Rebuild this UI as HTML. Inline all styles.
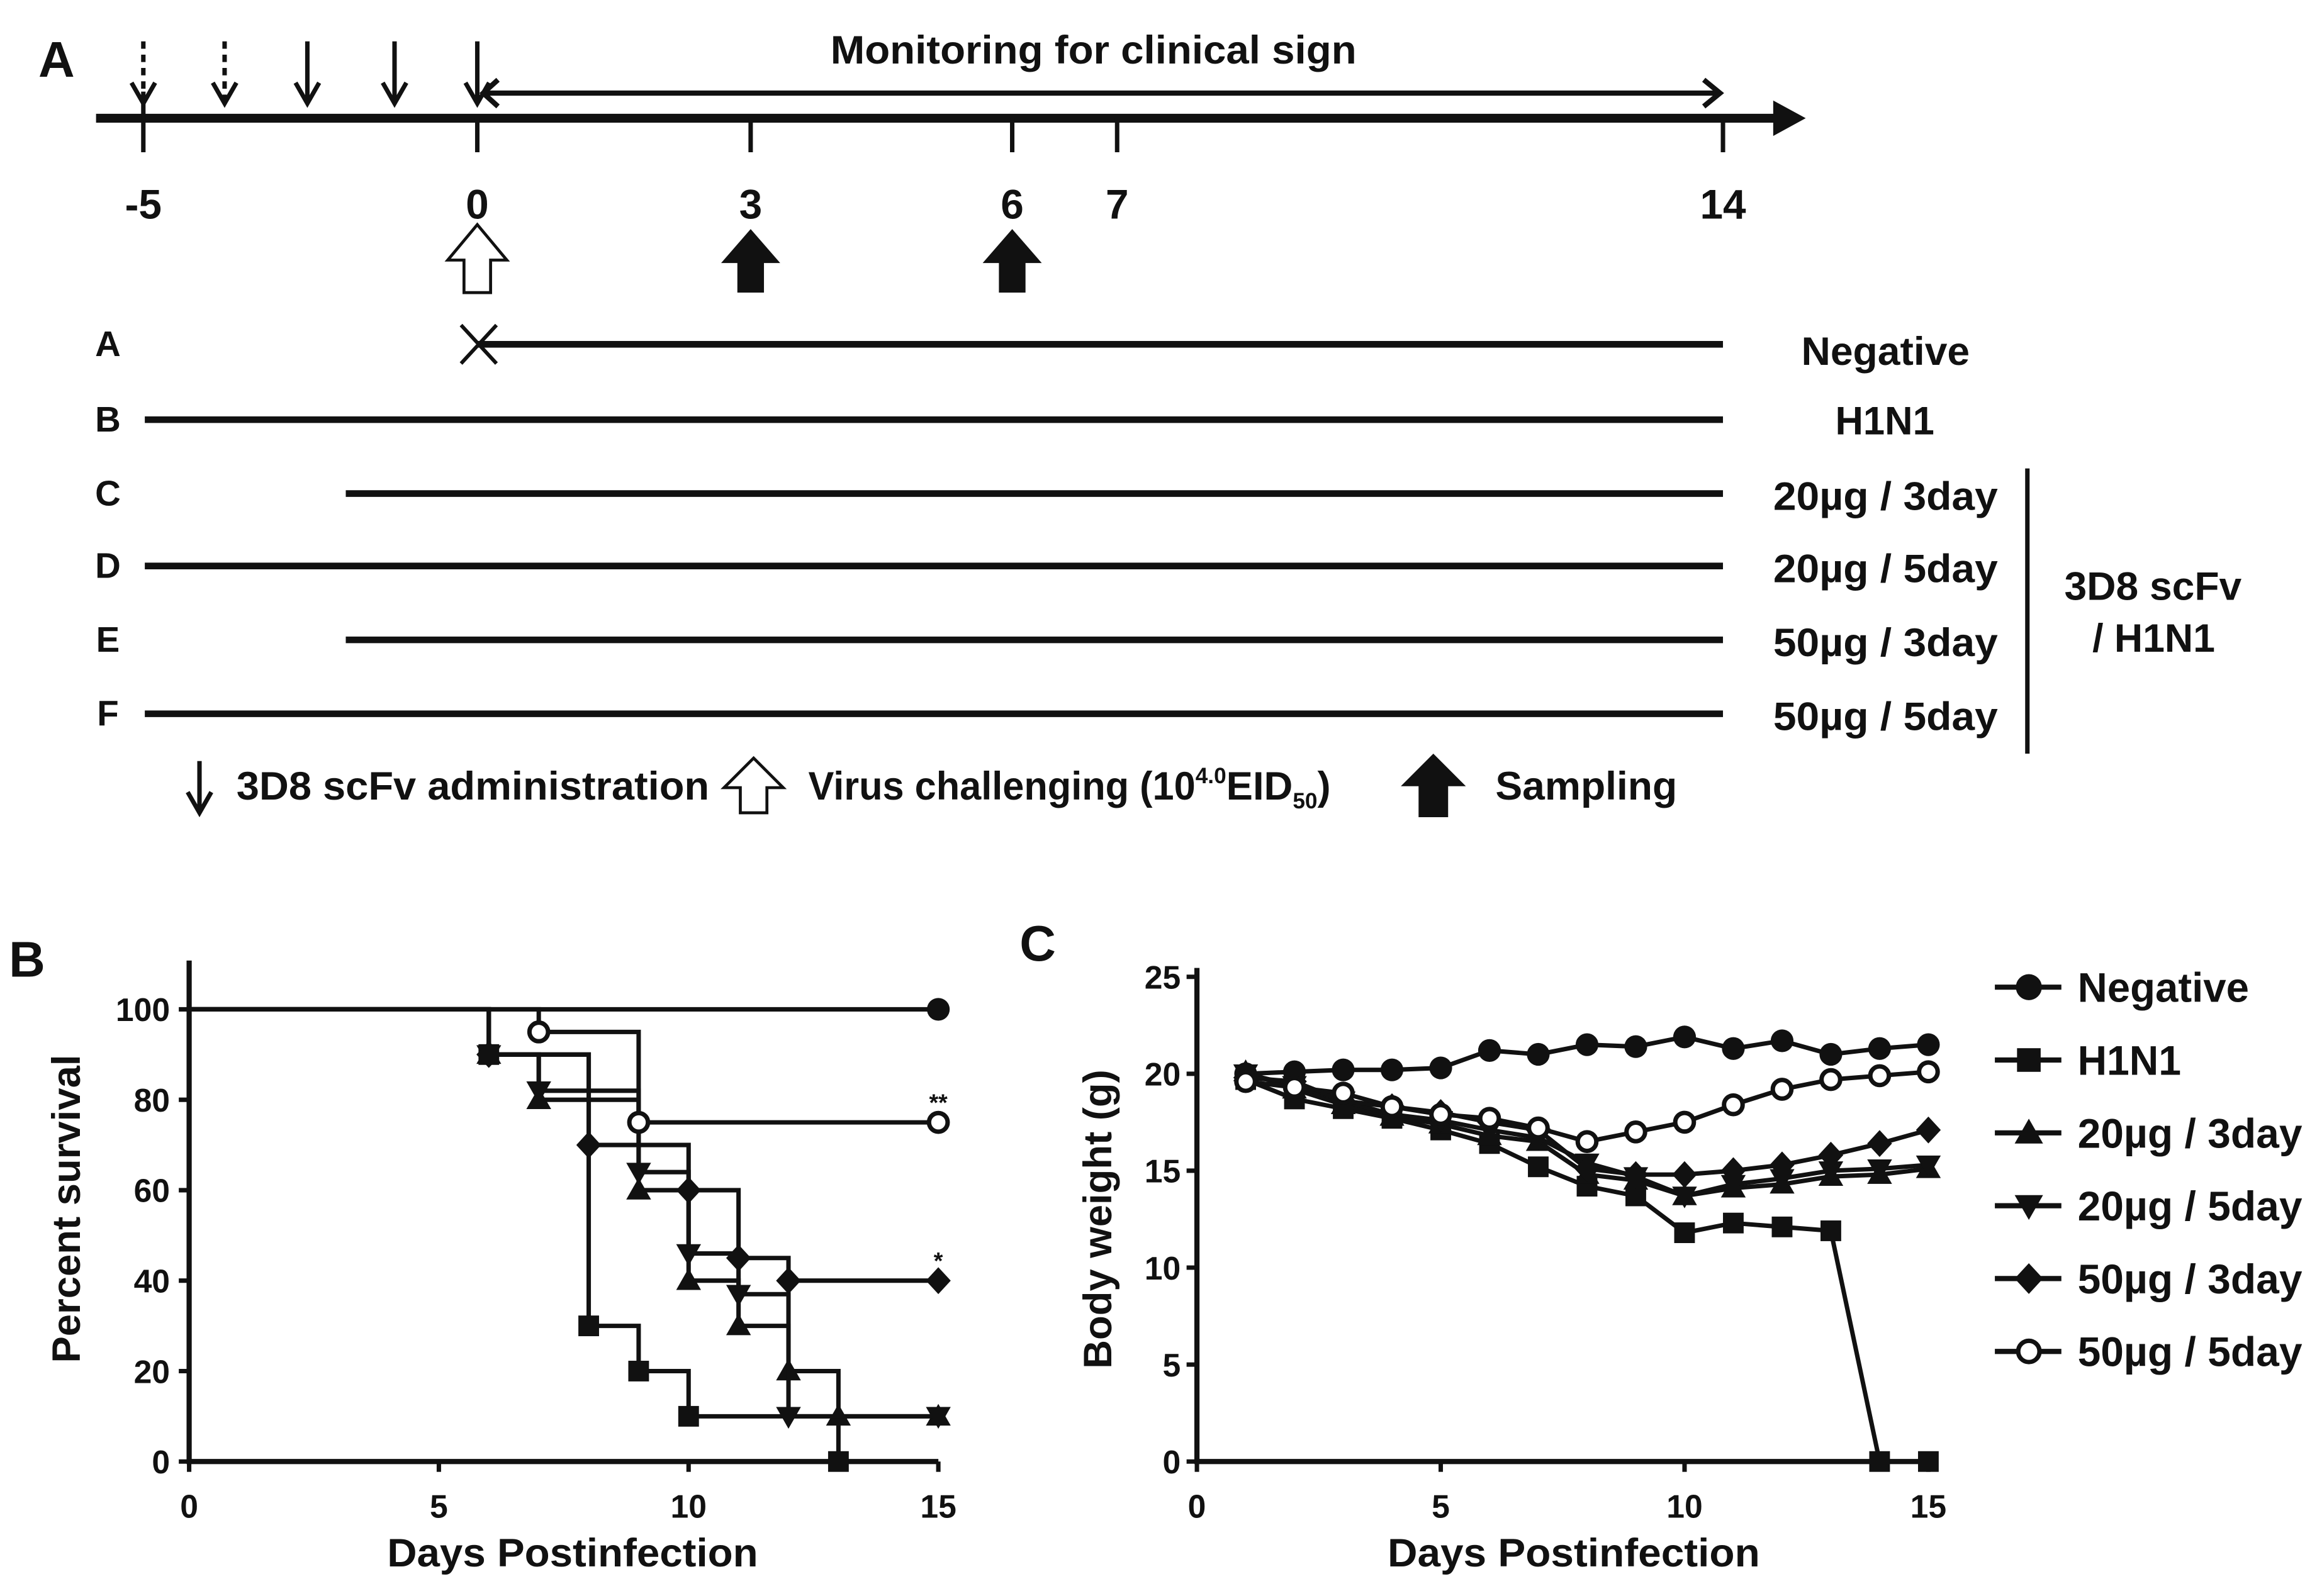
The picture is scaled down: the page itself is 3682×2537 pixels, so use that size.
<!DOCTYPE html>
<html><head><meta charset="utf-8"><style>
html,body{margin:0;padding:0;background:#fff}
svg{display:block}
text{font-family:"Liberation Sans",Arial,sans-serif;font-weight:bold;fill:#111}
</style></head><body>
<svg id="fig" width="3682" height="2537" viewBox="0 0 1568 1080" preserveAspectRatio="none" xmlns="http://www.w3.org/2000/svg">
<g id="panelA" stroke="#111" fill="none">
<text x="26" y="52" font-size="34" stroke="none">A</text>
<line x1="65" y1="80" x2="1205" y2="80" stroke-width="6"/>
<polygon points="1200,68 1222,80 1200,92" fill="#111" stroke="none"/>
<g stroke-width="3">
<line x1="97" y1="62" x2="97" y2="103"/><line x1="323" y1="80" x2="323" y2="103"/><line x1="508" y1="80" x2="508" y2="103"/><line x1="685" y1="80" x2="685" y2="103"/><line x1="756" y1="80" x2="756" y2="103"/><line x1="1166" y1="80" x2="1166" y2="103"/>
</g>
<g font-size="28" text-anchor="middle" stroke="none">
<text x="97" y="148">-5</text><text x="323" y="148">0</text><text x="508" y="148">3</text><text x="685" y="148">6</text><text x="756" y="148">7</text><text x="1166" y="148">14</text>
</g>
<g stroke-width="3">
<line x1="97" y1="28" x2="97" y2="68" stroke-dasharray="5,4"/><path d="M89,56 L97,70 L105,56"/>
<line x1="152" y1="28" x2="152" y2="68" stroke-dasharray="5,4"/><path d="M144,56 L152,70 L160,56"/>
<line x1="208" y1="28" x2="208" y2="68"/><path d="M200,56 L208,70 L216,56"/>
<line x1="267" y1="28" x2="267" y2="68"/><path d="M259,56 L267,70 L275,56"/>
<line x1="323" y1="28" x2="323" y2="68"/><path d="M315,56 L323,70 L331,56"/>
</g>
<g stroke-width="3.5">
<line x1="327" y1="63" x2="1163" y2="63"/><path d="M337,54 L327,63 L337,72"/><path d="M1153,54 L1164,63 L1153,72"/>
</g>
<text x="562" y="43" font-size="27" textLength="356" lengthAdjust="spacingAndGlyphs" stroke="none">Monitoring for clinical sign</text>
<polygon points="323,152 343,176 332,176 332,198 314,198 314,176 303,176" fill="#fff" stroke-width="2"/>
<polygon points="508,155 528,178 517,178 517,198 499,198 499,178 488,178" fill="#111" stroke="none"/>
<polygon points="685,155 705,178 694,178 694,198 676,198 676,178 665,178" fill="#111" stroke="none"/>
<g font-size="24" stroke="none" text-anchor="middle">
<text x="73" y="241">A</text><text x="73" y="292">B</text><text x="73" y="342">C</text><text x="73" y="391">D</text><text x="73" y="441">E</text><text x="73" y="491">F</text>
</g>
<g stroke-width="4.5">
<line x1="323" y1="233" x2="1166" y2="233"/><path d="M312,220 L336,246 M336,220 L312,246" stroke-width="2.5"/>
<line x1="98" y1="284" x2="1166" y2="284"/>
<line x1="234" y1="334" x2="1166" y2="334"/>
<line x1="98" y1="383" x2="1166" y2="383"/>
<line x1="234" y1="433" x2="1166" y2="433"/>
<line x1="98" y1="483" x2="1166" y2="483"/>
</g>
<g font-size="27" stroke="none">
<text x="1219" y="247" textLength="114" lengthAdjust="spacingAndGlyphs">Negative</text>
<text x="1242" y="294" textLength="67" lengthAdjust="spacingAndGlyphs">H1N1</text>
<text x="1200" y="345" textLength="152" lengthAdjust="spacingAndGlyphs">20µg / 3day</text>
<text x="1200" y="394" textLength="152" lengthAdjust="spacingAndGlyphs">20µg / 5day</text>
<text x="1200" y="444" textLength="152" lengthAdjust="spacingAndGlyphs">50µg / 3day</text>
<text x="1200" y="494" textLength="152" lengthAdjust="spacingAndGlyphs">50µg / 5day</text>
<text x="1397" y="406" textLength="120" lengthAdjust="spacingAndGlyphs">3D8 scFv</text>
<text x="1416" y="441" textLength="83" lengthAdjust="spacingAndGlyphs">/ H1N1</text>
</g>
<line x1="1372" y1="317" x2="1372" y2="510" stroke-width="3"/>
<g>
<line x1="135" y1="515" x2="135" y2="548" stroke-width="3"/><path d="M127,536 L135,550 L143,536" stroke-width="3"/>
<text x="160" y="541" font-size="27" textLength="320" lengthAdjust="spacingAndGlyphs" stroke="none">3D8 scFv administration</text>
<polygon points="510,513 530,533 519,533 519,550 501,550 501,533 490,533" fill="#fff" stroke-width="2"/>
<text x="547" y="541" font-size="27" stroke="none"><tspan textLength="262" lengthAdjust="spacingAndGlyphs">Virus challenging (10</tspan><tspan font-size="15" dy="-11">4.0</tspan><tspan dy="11">EID</tspan><tspan font-size="15" dy="6">50</tspan><tspan dy="-6">)</tspan></text>
<polygon points="970,510 992,532 980,532 980,553 960,553 960,532 948,532" fill="#111" stroke="none"/>
<text x="1012" y="541" font-size="27" textLength="123" lengthAdjust="spacingAndGlyphs" stroke="none">Sampling</text>
</g>
</g>
<g id="panelB"></g>
<g id="panelC"></g>
</svg>
<script>
// ---- Panel B data (Kaplan-Meier steps: [day, percent]) ----
const survDays = [0, 5, 10, 15];
const survTicks = [0, 20, 40, 60, 80, 100];
const survNegative = [[0,100]];
const survH1N1 = [[0,100],[6,90],[8,30],[9,20],[10,10],[13,0]];
const surv20x3 = [[0,100],[6,90],[7,80],[9,60],[10,40],[11,30],[12,20],[13,10]];
const surv20x5 = [[0,100],[6,90],[7,82],[9,64],[10,46],[11,37],[12,10]];
const surv50x3 = [[0,100],[6,90],[8,70],[10,60],[11,45],[12,40]];
const surv50x5 = [[0,100],[7,95],[9,75]];
// ---- Panel C data ----
const weightDays = [1,2,3,4,5,6,7,8,9,10,11,12,13,14,15];
const weightTicksX = [0,5,10,15];
const weightTicksY = [0,5,10,15,20,25];
const wNegative = [20,20.1,20.2,20.2,20.3,21.2,21,21.5,21.4,21.9,21.3,21.7,21,21.3,21.5];
const wH1N1 = [19.7,18.7,18.2,17.7,17.1,16.4,15.2,14.2,13.7,11.8,12.3,12.1,11.9,0,0];
const w20x3 = [20.1,19.2,18.4,17.8,17.4,16.8,16.5,14.8,14.5,13.7,14.1,14.3,14.7,14.8,15.1];
const w20x5 = [20,19.4,18.6,17.9,17.6,17.1,16.7,15.4,14.7,13.7,14.3,14.6,15,15.1,15.3];
const w50x3 = [19.8,19.6,18.6,18.3,18,17.5,17.1,15.1,14.8,14.8,15,15.3,15.8,16.4,17.1];
const w50x5 = [19.6,19.3,19,18.3,17.9,17.7,17.2,16.5,17,17.5,18.4,19.2,19.7,19.9,20.1];
const seriesNames = ["Negative","H1N1","20µg / 3day","20µg / 5day","50µg / 3day","50µg / 5day"];

const NS="http://www.w3.org/2000/svg";
function mk(tag, attrs, parent){const e=document.createElementNS(NS,tag);for(const k in attrs)e.setAttribute(k,attrs[k]);parent.appendChild(e);return e;}
function marker(g,type,x,y,s){
  let e;
  if(type==="circle") e=mk("circle",{cx:x,cy:y,r:s*0.55,fill:"#111"},g);
  else if(type==="open") e=mk("circle",{cx:x,cy:y,r:s*0.45,fill:"#fff",stroke:"#111","stroke-width":3},g);
  else if(type==="square") e=mk("rect",{x:x-s/2,y:y-s/2,width:s,height:s,fill:"#111"},g);
  else if(type==="up") e=mk("polygon",{points:`${x},${y-s*0.6} ${x+s*0.6},${y+s*0.45} ${x-s*0.6},${y+s*0.45}`,fill:"#111"},g);
  else if(type==="down") e=mk("polygon",{points:`${x},${y+s*0.6} ${x+s*0.6},${y-s*0.45} ${x-s*0.6},${y-s*0.45}`,fill:"#111"},g);
  else e=mk("polygon",{points:`${x},${y-s*0.65} ${x+s*0.6},${y} ${x},${y+s*0.65} ${x-s*0.6},${y}`,fill:"#111"},g);
  
  
  return e;
}
const types=["circle","square","up","down","diamond","open"];
function txt(g,attrs,s,name){const t=mk("text",attrs,g);t.textContent=s;
  
  
  return t;}

// ---- Panel B ----
(function(){
  const g=document.getElementById("panelB");
  const X=d=>128+d*(635-128)/15, Y=v=>989-v*(989-683)/100;
  txt(g,{x:6,y:661,"font-size":34},"B","panel-b-label");
  const ax=mk("path",{d:`M128,650 L128,989 L635,989`,fill:"none",stroke:"#111","stroke-width":3.5},g);
  
  
  survTicks.forEach(v=>{mk("line",{x1:121,y1:Y(v),x2:128,y2:Y(v),stroke:"#111","stroke-width":3},g);
    txt(g,{x:115,y:Y(v)+8,"font-size":22,"text-anchor":"end"},v,"y-tick-label");});
  survDays.forEach(d=>{mk("line",{x1:X(d),y1:989,x2:X(d),y2:996,stroke:"#111","stroke-width":3},g);
    txt(g,{x:X(d),y:1027,"font-size":22,"text-anchor":"middle"},d,"x-tick-label");});
  txt(g,{x:262,y:1060,"font-size":27,textLength:251,lengthAdjust:"spacingAndGlyphs"},"Days Postinfection","x-axis-title");
  txt(g,{x:0,y:0,"font-size":27,"text-anchor":"middle",transform:"translate(54,818) rotate(-90)"},"Percent survival","y-axis-title");
  const all=[survNegative,survH1N1,surv20x3,surv20x5,surv50x3,surv50x5];
  all.forEach((s,i)=>{
    let d=`M${X(s[0][0])},${Y(s[0][1])}`;
    for(let k=1;k<s.length;k++){d+=` L${X(s[k][0])},${Y(s[k-1][1])} L${X(s[k][0])},${Y(s[k][1])}`;}
    const last=s[s.length-1][1];
    d+=` L${X(15)},${Y(last)}`;
    const p=mk("path",{d,fill:"none",stroke:"#111","stroke-width":3},g);
    
    
    for(let k=1;k<s.length;k++) marker(g,types[i],X(s[k][0]),Y(s[k][1]),14);
    if(last>0) marker(g,types[i],X(15),Y(last),14);
  });
  txt(g,{x:X(15),y:Y(75)-8,"font-size":16,"text-anchor":"middle","font-weight":"normal"},"**","significance-50ug-5day");
  txt(g,{x:X(15),y:Y(40)-8,"font-size":16,"text-anchor":"middle","font-weight":"normal"},"*","significance-50ug-3day");
})();

// ---- Panel C ----
(function(){
  const g=document.getElementById("panelC");
  const X=d=>810+d*(1305-810)/15, Y=v=>989-v*(989-661)/25;
  txt(g,{x:690,y:650,"font-size":34},"C","panel-c-label");
  const ax=mk("path",{d:`M810,655 L810,989 L1305,989`,fill:"none",stroke:"#111","stroke-width":3.5},g);
  
  
  weightTicksY.forEach(v=>{mk("line",{x1:803,y1:Y(v),x2:810,y2:Y(v),stroke:"#111","stroke-width":3},g);
    txt(g,{x:799,y:Y(v)+8,"font-size":22,"text-anchor":"end"},v,"y-tick-label");});
  weightTicksX.forEach(d=>{mk("line",{x1:X(d),y1:989,x2:X(d),y2:996,stroke:"#111","stroke-width":3},g);
    txt(g,{x:X(d),y:1027,"font-size":22,"text-anchor":"middle"},d,"x-tick-label");});
  txt(g,{x:939,y:1060,"font-size":27,textLength:252,lengthAdjust:"spacingAndGlyphs"},"Days Postinfection","x-axis-title");
  txt(g,{x:0,y:0,"font-size":27,"text-anchor":"middle",transform:"translate(752,825) rotate(-90)"},"Body weight (g)","y-axis-title");
  const all=[wNegative,wH1N1,w20x3,w20x5,w50x3,w50x5];
  all.forEach((s,i)=>{
    const d=s.map((v,k)=>(k?"L":"M")+X(weightDays[k])+","+Y(v)).join(" ");
    const p=mk("path",{d,fill:"none",stroke:"#111","stroke-width":3},g);
    
    
    s.forEach((v,k)=>marker(g,types[i],X(weightDays[k]),Y(v),14));
    const ly=668+i*49.3;
    const ll=mk("line",{x1:1350,y1:ly,x2:1395,y2:ly,stroke:"#111","stroke-width":3.5},g);
    
    
    marker(g,types[i],1373,ly,16);
    txt(g,{x:1406,y:ly+10,"font-size":28,textLength:(i===0?116:i===1?70:152),lengthAdjust:"spacingAndGlyphs"},seriesNames[i],"legend-entry");
  });
})();
</script>
</body></html>
